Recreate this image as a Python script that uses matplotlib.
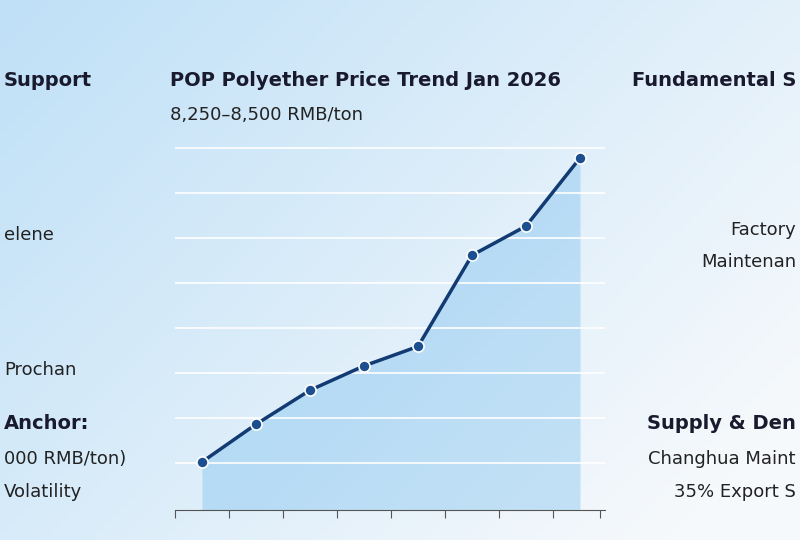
import matplotlib
matplotlib.use("Agg")
import matplotlib.pyplot as plt
import numpy as np
from matplotlib.colors import LinearSegmentedColormap

days = [1, 5, 9, 13, 17, 21, 25, 29]
prices = [8250, 8281, 8309, 8329, 8345, 8420, 8444, 8500]

fig = plt.figure(figsize=(8, 5.4), dpi=100)
bg = fig.add_axes([0, 0, 1, 1])
xx = np.linspace(0, 1, 200)
yy = np.linspace(0, 1, 200)
X, Y = np.meshgrid(xx, yy)
grad = np.clip(0.6 * (1 - X) + 0.4 * Y - 0.1, 0, 1)
cm = LinearSegmentedColormap.from_list("b", ["#f6f9fc", "#bfe0f7"])
bg.imshow(grad, cmap=cm, extent=[0, 1, 0, 1], origin="lower", aspect="auto")
bg.axis("off")

ax = fig.add_axes([175/800, 30/540, 430/800, 370/540])
ax.set_facecolor("none")
ax.plot(days, prices, color="#123a73", lw=2.5, marker="o", ms=8,
        mfc="#1c4f8f", mec="white", mew=1.2, zorder=3)
ymin = 8210.5
ymax = ymin + 370 * 250 / 304
ax.fill_between(days, prices, ymin, color="#5ab0ea", alpha=0.3, lw=0)
ax.set_xlim(-1, 30.85)
ax.set_ylim(ymin, ymax)
ax.set_yticks(8508 - 37 * np.arange(0, 8))
ax.yaxis.grid(True, color="white", lw=1.2)
ax.set_yticklabels([])
ax.set_xticks([-1, 3, 7, 11, 15, 19, 23, 27, 30.5])
ax.set_xticklabels([])
ax.tick_params(length=6, color="#555", left=False)
for s in ["top", "right", "left"]:
    ax.spines[s].set_visible(False)
ax.spines["bottom"].set_color("#555")

fig.text(0.212, 0.84, "POP Polyether Price Trend Jan 2026", fontsize=14,
         fontweight="bold", color="#1a1a2e")
fig.text(0.212, 0.778, "8,250–8,500 RMB/ton", fontsize=13, color="#222")

fig.text(0.005, 0.84, "Support", fontsize=14, fontweight="bold", color="#1a1a2e")
fig.text(0.005, 0.555, "elene", fontsize=13, color="#222")
fig.text(0.005, 0.305, "Prochan", fontsize=13, color="#222")
fig.text(0.005, 0.205, "Anchor:", fontsize=14, fontweight="bold", color="#1a1a2e")
fig.text(0.005, 0.14, "000 RMB/ton)", fontsize=13, color="#222")
fig.text(0.005, 0.08, "Volatility", fontsize=13, color="#222")

kw = dict(ha="right")
fig.text(0.995, 0.84, "Fundamental S", fontsize=14, fontweight="bold", color="#1a1a2e", **kw)
fig.text(0.995, 0.565, "Factory", fontsize=13, color="#222", **kw)
fig.text(0.995, 0.505, "Maintenan", fontsize=13, color="#222", **kw)
fig.text(0.995, 0.205, "Supply & Den", fontsize=14, fontweight="bold", color="#1a1a2e", **kw)
fig.text(0.995, 0.14, "Changhua Maint", fontsize=13, color="#222", **kw)
fig.text(0.995, 0.08, "35% Export S", fontsize=13, color="#222", **kw)

fig.savefig("out.png", dpi=100)
